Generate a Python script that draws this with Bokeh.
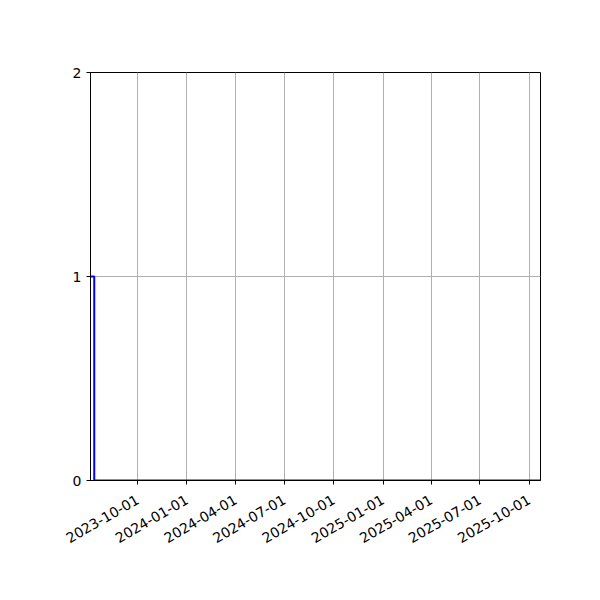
import math
from datetime import datetime
from bokeh.plotting import figure
from bokeh.models import FixedTicker, DatetimeTickFormatter, Range1d, ColumnDataSource
from bokeh.embed import file_html
from bokeh.resources import INLINE

# data
dates = ["2023-07-05", "2023-07-12", "2025-10-22"]
counts = [1, 0, 0]
tick_dates = ["2023-10-01", "2024-01-01", "2024-04-01", "2024-07-01", "2024-10-01",
              "2025-01-01", "2025-04-01", "2025-07-01", "2025-10-01"]
y_ticks = [0, 1, 2]
x_start = "2023-07-05"
x_end = "2025-10-22"

def ms(s):
    return (datetime.strptime(s, "%Y-%m-%d") - datetime(1970, 1, 1)).total_seconds() * 1000.0

src = ColumnDataSource(dict(x=[ms(d) for d in dates], y=counts))

p = figure(width=584, height=584, output_backend="svg", toolbar_location=None,
           x_axis_type="datetime",
           x_range=Range1d(ms(x_start), ms(x_end)), y_range=Range1d(0, 2),
           min_border_left=90, min_border_right=44, min_border_top=72, min_border_bottom=104)
p.frame_width = 450
p.frame_height = 408

p.step("x", "y", source=src, mode="after", line_color="#0000ff", line_width=2)

p.xaxis.ticker = FixedTicker(ticks=[ms(d) for d in tick_dates])
fmt = "%Y-%m-%d"
p.xaxis.formatter = DatetimeTickFormatter(milliseconds=fmt, seconds=fmt, minsec=fmt, minutes=fmt,
                                          hourmin=fmt, hours=fmt, days=fmt, months=fmt, years=fmt)
p.xaxis.major_label_orientation = math.pi / 6
p.xaxis.major_label_standoff = 14
p.yaxis.ticker = FixedTicker(ticks=y_ticks)
p.yaxis.major_label_standoff = 5

for ax in (p.xaxis, p.yaxis):
    ax.major_label_text_font = "DejaVu Sans"
    ax.major_label_text_font_size = "14px"
    ax.major_label_text_color = "black"
    ax.axis_line_color = "black"
    ax.major_tick_line_color = "black"
    ax.major_tick_in = 0
    ax.major_tick_out = 4
    ax.minor_tick_line_color = None

p.xgrid.grid_line_color = "#b0b0b0"
p.ygrid.grid_line_color = "#b0b0b0"
p.xgrid.grid_line_width = 1
p.ygrid.grid_line_width = 1
p.outline_line_color = "black"
p.outline_line_width = 1
p.background_fill_color = "white"
p.border_fill_color = "white"

open("out.html", "w").write(file_html(p, INLINE))
